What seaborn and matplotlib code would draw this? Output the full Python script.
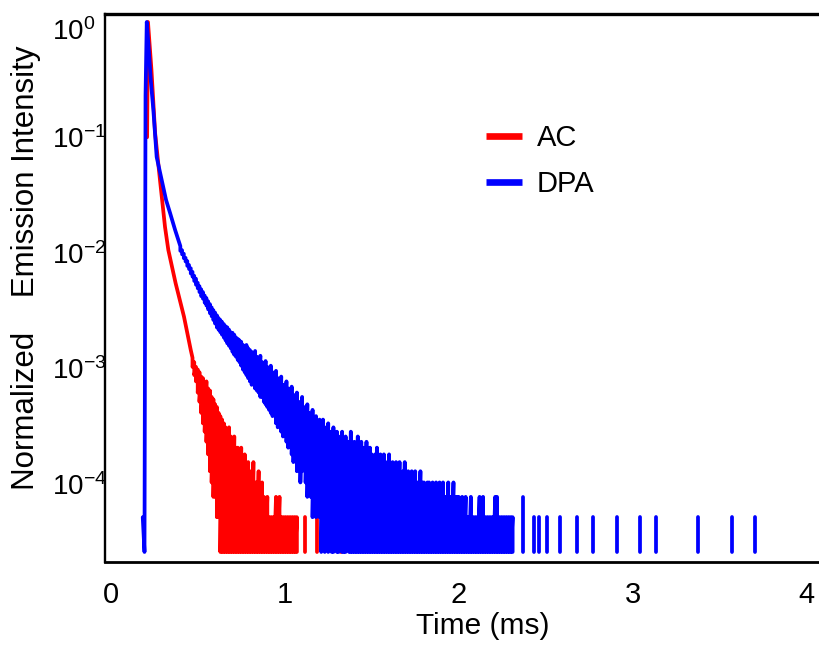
import numpy as np
import pandas as pd
import seaborn as sns
import matplotlib
matplotlib.use("Agg")
import matplotlib.pyplot as plt
from matplotlib.ticker import FixedLocator, NullLocator
from matplotlib.transforms import ScaledTranslation

# ---------------- data (photon counts) ----------------
DT = 0.01  # time step of the noisy part (ms)

series_names = ["AC", "DPA"]

# AC (red): smooth rise/decay, then the noisy band given as upper / lower value per time step
ac_head_t = [0.209, 0.214, 0.234, 0.255, 0.283, 0.312, 0.331, 0.373, 0.421, 0.460]
ac_head_counts = [3900, 38800, 14900, 4245, 1663, 651, 412, 212, 109, 56]
ac_noise_t0 = 0.47
ac_noise_hi = [48, 44, 40, 38, 36, 33, 32, 29, 30, 26,
               25, 22, 21, 19, 18, 16, 15, 14, 13, 12,
               11, 12, 10, 9, 10, 8, 8, 7, 8, 6,
               7, 5, 6, 5, 4, 6, 4, 4, 5, 3,
               4, 3, 2, 3, 2, 2, 2, 2, 3, 2,
               3, 2, 2, 2, 2, 2, 2, 2, 2, 2,
               2]
ac_noise_lo = [40, 34, 30, 24, 20, 16, 13, 11, 9, 7,
               5, 4, 3, 3, 2, 2, 1, 1, 1, 1,
               1, 1, 1, 1, 1, 1, 1, 1, 1, 1,
               1, 1, 1, 1, 1, 1, 1, 1, 1, 1,
               1, 1, 1, 1, 1, 1, 1, 1, 1, 1,
               1, 1, 1, 1, 1, 1, 1, 1, 1, 1,
               1]
ac_spike_t = [1.114, 1.186, 1.324]
ac_spike_counts = [2, 2, 2]

# DPA (blue)
dpa_head_t = [0.184, 0.194, 0.200, 0.207, 0.217, 0.230, 0.245, 0.264, 0.293,
              0.318, 0.341, 0.370]
dpa_head_counts = [2, 1, 9000, 38800, 24500, 12200, 6700, 2630, 1660,
                   1116, 861, 614]
dpa_noise_t0 = 0.40
dpa_noise_hi = [
    445, 410, 382, 352, 330, 305, 286, 266, 246, 232,   # 0.40
    214, 200, 188, 178, 166, 158, 148, 140, 131, 124,   # 0.50
    118, 112, 106, 102, 98, 94, 90, 88, 84, 80,         # 0.60
    79, 76, 72, 70, 68, 66, 62, 60, 62, 58,             # 0.70
    56, 54, 52, 55, 49, 47, 50, 44, 42, 45,             # 0.80
    40, 38, 41, 36, 34, 37, 32, 30, 33, 28,             # 0.90
    27, 30, 26, 24, 27, 23, 22, 24, 20, 19,             # 1.00
    22, 18, 17, 19, 16, 15, 17, 14, 15, 13,             # 1.10
    14, 12, 14, 12, 11, 13, 11, 10, 12, 10,             # 1.20
    11, 9, 10, 11, 9, 10, 8, 9, 11, 8,                  # 1.30
    9, 8, 10, 7, 9, 8, 7, 9, 7, 8,                      # 1.40
    7, 6, 7, 8, 6, 7, 6, 7, 5, 6,                       # 1.50
    7, 5, 6, 5, 6, 5, 6, 4, 5, 6,                       # 1.60
    4, 5, 4, 5, 4, 5, 4, 4, 5, 4,                       # 1.70
    4, 3, 4, 4, 3, 4, 3, 4, 3, 4,                       # 1.80
    3, 4, 3, 3, 4, 3, 3, 4, 3, 3,                       # 1.90
    3, 2, 3, 2, 3, 2, 2, 3, 2, 2,                       # 2.00
    2, 2, 3, 2, 3, 2, 2, 2, 2, 2,                       # 2.10
    2, 3, 3, 2, 2, 2, 2, 2, 2, 2,                       # 2.20
    2, 2,                                               # 2.30
]
dpa_noise_lo = [
    405, 378, 350, 328, 300, 282, 258, 242, 222, 206,   # 0.40
    192, 178, 164, 156, 144, 136, 126, 117, 110, 102,   # 0.50
    95, 88, 84, 80, 76, 72, 68, 64, 61, 58,             # 0.60
    54, 51, 49, 46, 44, 41, 38, 36, 34, 32,             # 0.70
    30, 28, 29, 26, 25, 24, 22, 22, 20, 19,             # 0.80
    18, 17, 16, 15, 16, 13, 12, 14, 11, 10,             # 0.90
    11, 9, 8, 10, 7, 6, 8, 5, 6, 4,                     # 1.00
    5, 6, 4, 3, 5, 3, 2, 4, 2, 3,                       # 1.10
    2, 1, 3, 1, 2, 1, 2, 1, 1, 2,                       # 1.20
    1, 1, 2, 1, 1, 1, 2, 1, 1, 1,                       # 1.30
    1, 1, 1, 1, 1, 1, 1, 1, 1, 1,                       # 1.40
    1, 1, 1, 1, 1, 1, 1, 1, 1, 1,                       # 1.50
    1, 1, 1, 1, 1, 1, 1, 1, 1, 1,                       # 1.60
    1, 1, 1, 1, 1, 1, 1, 1, 1, 1,                       # 1.70
    1, 1, 1, 1, 1, 1, 1, 1, 1, 1,                       # 1.80
    1, 1, 1, 1, 1, 1, 1, 1, 1, 1,                       # 1.90
    1, 1, 1, 1, 1, 1, 1, 1, 1, 1,                       # 2.00
    1, 1, 1, 1, 1, 1, 1, 1, 1, 1,                       # 2.10
    1, 1, 1, 1, 1, 1, 1, 1, 1, 1,                       # 2.20
    1, 1,                                               # 2.30
]
dpa_spike_t = [2.371, 2.433, 2.461, 2.506, 2.582, 2.678, 2.774, 2.908,
               3.042, 3.134, 3.377, 3.569, 3.703]
dpa_spike_counts = [3, 2, 2, 2, 2, 2, 2, 2, 2, 2, 2, 2, 2]

x_ticks = [0, 1, 2, 3, 4]
y_ticks = [1e0, 1e-1, 1e-2, 1e-3, 1e-4]
y_tick_labels = [r"$\mathregular{10^{0}}$", r"$\mathregular{10^{-1}}$",
                 r"$\mathregular{10^{-2}}$", r"$\mathregular{10^{-3}}$",
                 r"$\mathregular{10^{-4}}$"]


def build(name, head_t, head_c, t0, hi, lo, spike_t, spike_c):
    peak = max(max(head_c), max(hi))
    rows = [(name, 0, t, c / peak) for t, c in zip(head_t, head_c)]
    grid = t0 + DT * np.arange(len(hi))
    for t, h, l in zip(grid, hi, lo):
        rows.append((name, 0, t, h / peak))
        rows.append((name, 0, t, l / peak))
    for k, (ts, cs) in enumerate(zip(spike_t, spike_c)):
        rows.append((name, k + 1, ts, 1 / peak))
        rows.append((name, k + 1, ts, cs / peak))
    return pd.DataFrame(rows, columns=["series", "seg", "t", "I"])


df = pd.concat([
    build("AC", ac_head_t, ac_head_counts, ac_noise_t0, ac_noise_hi,
          ac_noise_lo, ac_spike_t, ac_spike_counts),
    build("DPA", dpa_head_t, dpa_head_counts, dpa_noise_t0, dpa_noise_hi,
          dpa_noise_lo, dpa_spike_t, dpa_spike_counts),
], ignore_index=True)

# ---------------- styling ----------------
sns.set_theme(style="white")
plt.rcParams["font.family"] = ["Liberation Sans", "DejaVu Sans"]
plt.rcParams["mathtext.fontset"] = "custom"
plt.rcParams["mathtext.rm"] = "Liberation Sans"
plt.rcParams["mathtext.it"] = "Liberation Sans:italic"
plt.rcParams["mathtext.bf"] = "Liberation Sans:bold"
for key in ["text.color", "axes.labelcolor", "xtick.color", "ytick.color"]:
    plt.rcParams[key] = "black"

W, H = 819, 646
fig = plt.figure(figsize=(W / 100, H / 100), dpi=100)
ax = fig.add_axes([105 / W, 84 / H, (W - 105) / W, (562 - 14) / H])

sns.lineplot(data=df, x="t", y="I", hue="series", hue_order=series_names,
             units="seg", estimator=None, sort=False,
             palette={"AC": "#ff0000", "DPA": "#0000ff"},
             linewidth=2.7, ax=ax, legend=True,
             solid_capstyle="round", solid_joinstyle="round")

ax.set_yscale("log")
ax.set_xlim(-0.033, 4.071)
ax.set_ylim(2.11e-5, 1.173)

ax.xaxis.set_major_locator(FixedLocator(x_ticks))
ax.set_xticklabels([str(v) for v in x_ticks])
ax.yaxis.set_major_locator(FixedLocator(y_ticks))
ax.yaxis.set_minor_locator(NullLocator())
ax.xaxis.set_minor_locator(NullLocator())
ax.set_yticklabels(y_tick_labels)

ax.tick_params(axis="x", direction="in", length=16.5, width=1.5,
               labelsize=21, pad=14, colors="black")
ax.tick_params(axis="y", direction="in", length=11, width=2,
               labelsize=20, pad=38, colors="black")
ylabs = ax.get_yticklabels()
for lab in ylabs:
    lab.set_horizontalalignment("left")
ylabs[0].set_transform(ylabs[0].get_transform() +
                       ScaledTranslation(0, -7 / 100, fig.dpi_scale_trans))

for side, lw in [("left", 1.7), ("bottom", 2.0), ("top", 2.4)]:
    ax.spines[side].set_visible(True)
    ax.spines[side].set_linewidth(lw)
    ax.spines[side].set_color("black")
ax.spines["right"].set_visible(False)

ax.set_xlabel("Time (ms)", fontsize=21.5)
ax.xaxis.set_label_coords(0.529, -0.0912)
ax.set_ylabel("Normalized    Emission Intensity", fontsize=22.5)
ax.yaxis.set_label_coords(-0.0896, 0.537)

old = ax.get_legend()
handles = old.legend_handles
labels = [t.get_text() for t in old.get_texts()]
old.remove()
leg = ax.legend(handles, labels, loc="upper left",
                bbox_to_anchor=((486 - 105) / 714, (562 - 124) / 548),
                frameon=False, borderpad=0, borderaxespad=0,
                handlelength=1.23, handletextpad=0.5, labelspacing=0.63,
                fontsize=21)
for h in leg.get_lines():
    h.set_linewidth(4.8)
    h.set_solid_capstyle("butt")

fig.savefig("out.png", dpi=100)
